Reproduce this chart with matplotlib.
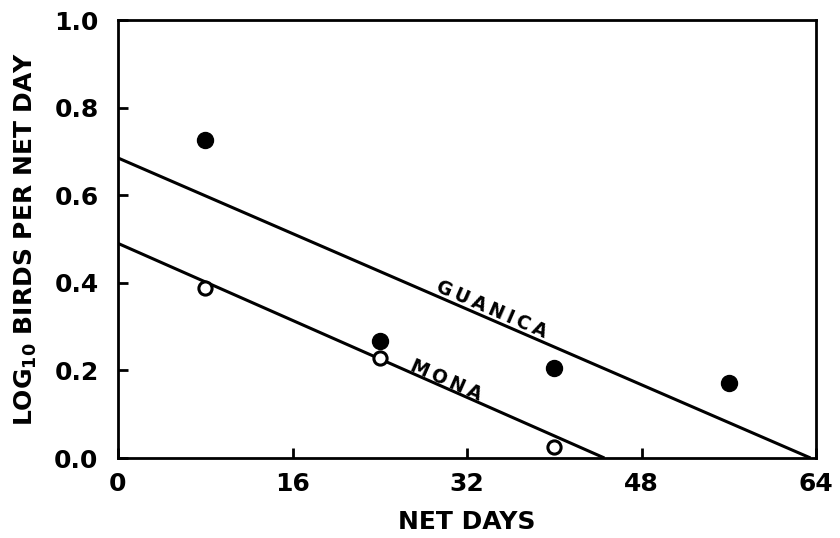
import numpy as np
import matplotlib
matplotlib.use("Agg")
import matplotlib.pyplot as plt

# Data
net_days = [8, 24, 40, 56]
guanica_log = [0.726, 0.267, 0.205, 0.171]
mona_days = [8, 24, 40]
mona_log = [0.388, 0.228, 0.025]

# Fitted regression lines (intercept, x-intercept)
guanica_fit = (0.685, 63.5)
mona_fit = (0.490, 44.6)

xticks = [0, 16, 32, 48, 64]
xticklabels = ["0", "16", "32", "48", "64"]
yticks = [0.0, 0.2, 0.4, 0.6, 0.8, 1.0]
yticklabels = ["0.0", "0.2", "0.4", "0.6", "0.8", "1.0"]

plt.rcParams['font.family'] = ['DejaVu Sans']
plt.rcParams['mathtext.default'] = 'bf'

fig = plt.figure(figsize=(8.4, 5.38), dpi=100)
ax = fig.add_axes([118/840, 80/538, (816-118)/840, (458-20)/538])

ax.set_xlim(0, 64)
ax.set_ylim(0, 1.0)

# lines
for b0, xint in (guanica_fit, mona_fit):
    xs = np.array([0, xint])
    ax.plot(xs, b0 - b0 / xint * xs, color='black', lw=2.2, solid_capstyle='butt', zorder=2)

ax.plot(net_days, guanica_log, 'o', color='black', ms=11.5, zorder=3, clip_on=False)
ax.plot(mona_days, mona_log, 'o', mfc='white', mec='black', mew=2.2, ms=9.5, zorder=3, clip_on=False)

# line labels
def angle_of(b0, xint):
    p = ax.transData.transform([[0, b0], [xint, 0]])
    return np.degrees(np.arctan2(p[1, 1] - p[0, 1], p[1, 0] - p[0, 0]))

ax.text(34.3, 0.338, "\u2009".join("GUANICA"), rotation=angle_of(*guanica_fit), rotation_mode='anchor',
        ha='center', va='center', fontsize=13.5, fontweight='bold')
ax.text(30.1, 0.178, "\u2009".join("MONA"), rotation=angle_of(*mona_fit), rotation_mode='anchor',
        ha='center', va='center', fontsize=13.5, fontweight='bold')

ax.set_xticks(xticks)
ax.set_xticklabels(xticklabels)
ax.set_yticks(yticks)
ax.set_yticklabels(yticklabels)
ax.tick_params(direction='in', length=7, width=2, labelsize=18, top=False, right=False)
ax.tick_params(axis='x', pad=10)
ax.tick_params(axis='y', pad=14)
for lab in ax.get_xticklabels() + ax.get_yticklabels():
    lab.set_fontweight('bold')
for s in ax.spines.values():
    s.set_linewidth(2.0)

ax.set_xlabel("NET DAYS", fontsize=18, fontweight='bold', labelpad=10)
ax.set_ylabel(r"LOG$_{10}$ BIRDS PER NET DAY", fontsize=18, fontweight='bold', labelpad=11)

fig.savefig("out.png", dpi=100)
